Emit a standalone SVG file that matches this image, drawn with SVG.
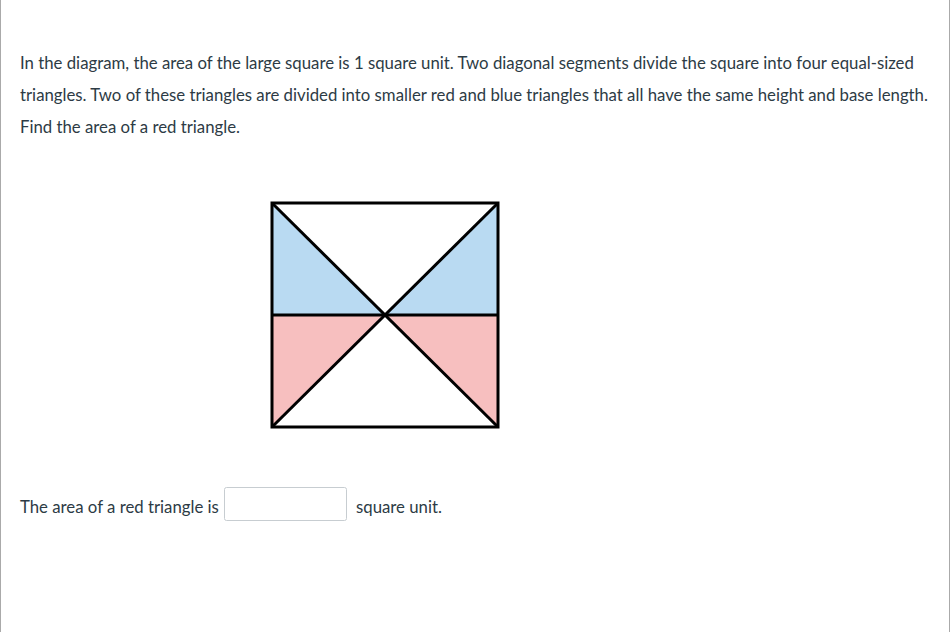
<svg xmlns="http://www.w3.org/2000/svg" width="951" height="632" viewBox="0 0 951 632">
<style>
.t{font-family:Lato,"Liberation Sans",sans-serif;font-size:16.78px;fill:#2d3b45}
.e{stroke:#000;stroke-width:3;fill:none;stroke-linejoin:miter}
</style>
<rect x="0" y="0" width="951" height="632" fill="#fff"/>
<line x1="0.5" y1="0" x2="0.5" y2="632" stroke="#aaa" stroke-width="1"/>
<line x1="949.5" y1="0" x2="949.5" y2="632" stroke="#aaa" stroke-width="1"/>
<g id="question">
<text class="t" x="20" y="69">In the diagram, the area of the large square is 1 square unit. Two diagonal segments divide the square into four equal-sized</text>
<text class="t" x="20" y="101">triangles. Two of these triangles are divided into smaller red and blue triangles that all have the same height and base length.</text>
<text class="t" x="20" y="133">Find the area of a red triangle.</text>
</g>
<g id="square">
<polygon points="272,203 385,315 272,315" fill="#b9daf2"/>
<polygon points="498,203 385,315 498,315" fill="#b9daf2"/>
<polygon points="272,315 385,315 272,427" fill="#f7bfbf"/>
<polygon points="498,315 385,315 498,427" fill="#f7bfbf"/>
<rect class="e" x="272" y="203" width="226" height="224"/>
<line class="e" x1="272" y1="315" x2="498" y2="315"/>
<line class="e" x1="272" y1="203" x2="498" y2="427"/>
<line class="e" x1="498" y1="203" x2="272" y2="427"/>
</g>
<g id="answer">
<text class="t" x="20" y="513">The area of a red triangle is</text>
<rect x="224.5" y="487.5" width="122" height="33" rx="2" fill="#fff" stroke="#c7cdd1" stroke-width="1"/>
<text class="t" x="356" y="513">square unit.</text>
</g>
</svg>
